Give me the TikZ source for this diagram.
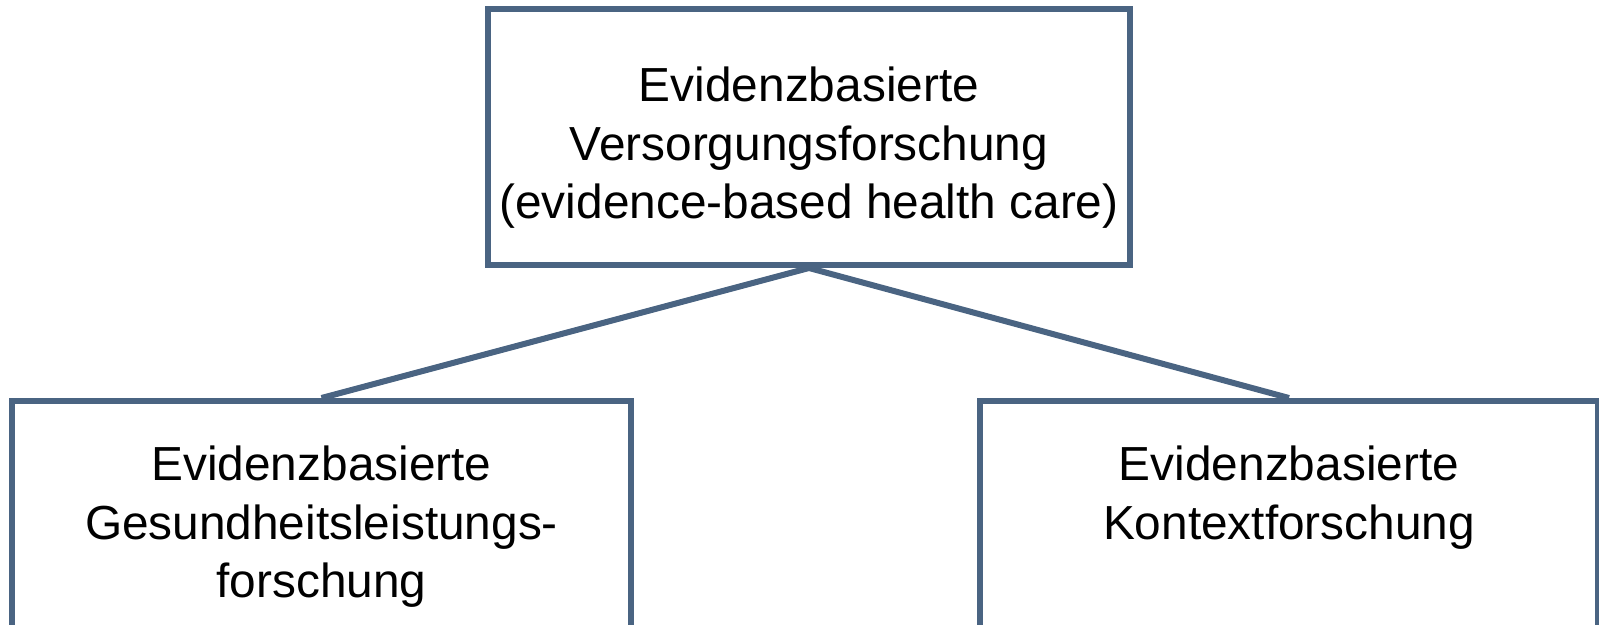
\documentclass[tikz,border=0pt]{standalone}
\usepackage{fontspec}
\setmainfont{Liberation Sans}
\definecolor{slate}{RGB}{74,100,130}
\begin{document}
\begin{tikzpicture}[x=0.5pt,y=-0.5pt,
  boxnode/.style={draw=slate, line width=3pt, fill=white, rectangle, inner sep=0pt},
  txt/.style={align=center, inner sep=0pt, font=\fontsize{23.9}{29.3}\selectfont},
  conn/.style={draw=slate, line width=3pt}]
\useasboundingbox (0,0) rectangle (1599,625);
\clip (0,0) rectangle (1599,625);
\node[boxnode, minimum width=321pt, minimum height=128pt] (top) at (809,137) {};
\node[boxnode, minimum width=309.5pt, minimum height=128pt] (left) at (321.5,529) {};
\node[boxnode, minimum width=309pt, minimum height=128pt] (right) at (1289,529) {};
\draw[conn] (top.south) -- (left.north);
\draw[conn] (top.south) -- (right.north);
\node[txt] (ttop) at (809,148) {Evidenzbasierte\\Versorgungsforschung\\(evidence-based health care)};
\node[txt] (tleft) at (321.5,527) {Evidenzbasierte\\Gesundheitsleistungs-\\forschung};
\node[txt] (tright) at (1289,497.5) {Evidenzbasierte\\Kontextforschung};
\end{tikzpicture}
\end{document}
